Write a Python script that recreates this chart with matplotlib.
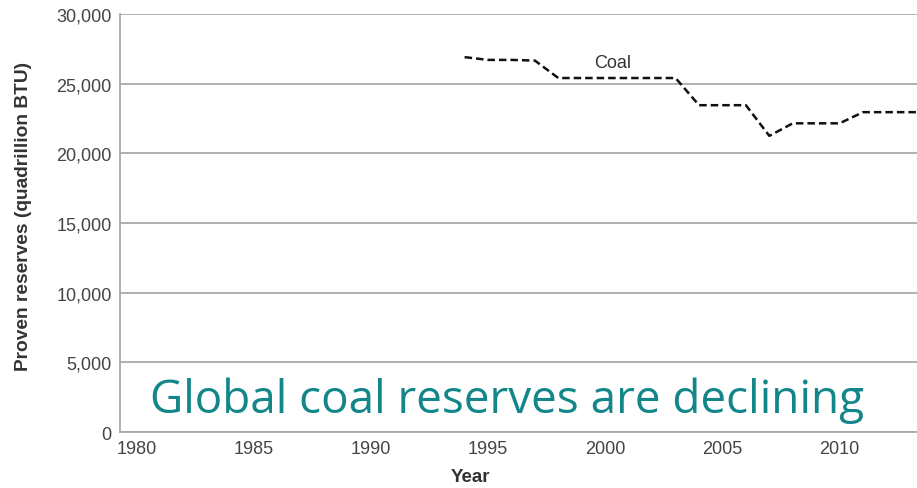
import matplotlib
matplotlib.use('Agg')
import matplotlib.pyplot as plt
from matplotlib.ticker import FuncFormatter

plt.rcParams['font.family'] = ['Liberation Sans', 'DejaVu Sans']

years = [1994, 1995, 1996, 1997, 1998, 1999, 2000, 2001, 2002, 2003,
         2004, 2005, 2006, 2007, 2008, 2009, 2010, 2011, 2012, 2013, 2014]
coal = [26900, 26700, 26700, 26650, 25400, 25400, 25400, 25400, 25400, 25400,
        23450, 23450, 23450, 21250, 22150, 22150, 22150, 22950, 22950, 22950, 22950]

xticks = [1980, 1985, 1990, 1995, 2000, 2005, 2010]
yticks = [0, 5000, 10000, 15000, 20000, 25000, 30000]

fig = plt.figure(figsize=(9.17, 4.89), dpi=100)
ax = fig.add_axes([0.1309, 0.1145, 0.8691, 0.855])

ax.plot(years, coal, color='#111111', linestyle=(0, (3, 1.6)), linewidth=1.8)
ax.text(2000.3, 26500, 'Coal', fontsize=13, color='#333333', ha='center', va='center')

ax.set_xlim(1979.3, 2013.3)
ax.set_ylim(0, 30000)
ax.set_xticks(xticks)
ax.set_yticks(yticks)
ax.yaxis.set_major_formatter(FuncFormatter(lambda v, p: f'{int(v):,}'))
ax.tick_params(length=0, labelsize=13, labelcolor='#444444', pad=6)
ax.grid(axis='y', color='#aaaaaa', linewidth=1.3)
ax.set_axisbelow(True)
for s in ['top', 'right']:
    ax.spines[s].set_visible(False)
for s in ['left', 'bottom']:
    ax.spines[s].set_color('#aaaaaa')
    ax.spines[s].set_linewidth(1.3)

ax.set_xlabel('Year', fontsize=13.5, fontweight='bold', color='#333333')
ax.xaxis.set_label_coords(0.44, -0.085)
ax.set_ylabel('Proven reserves (quadrillion BTU)', fontsize=13.8, fontweight='bold',
              color='#333333')
ax.yaxis.set_label_coords(-0.111, 0.517)

fig.text(0.553, 0.18, 'Global coal reserves are declining', fontsize=33,
         color='#13868a', ha='center', va='center', family=['Open Sans', 'DejaVu Sans'])

fig.savefig('out.png', dpi=100)
